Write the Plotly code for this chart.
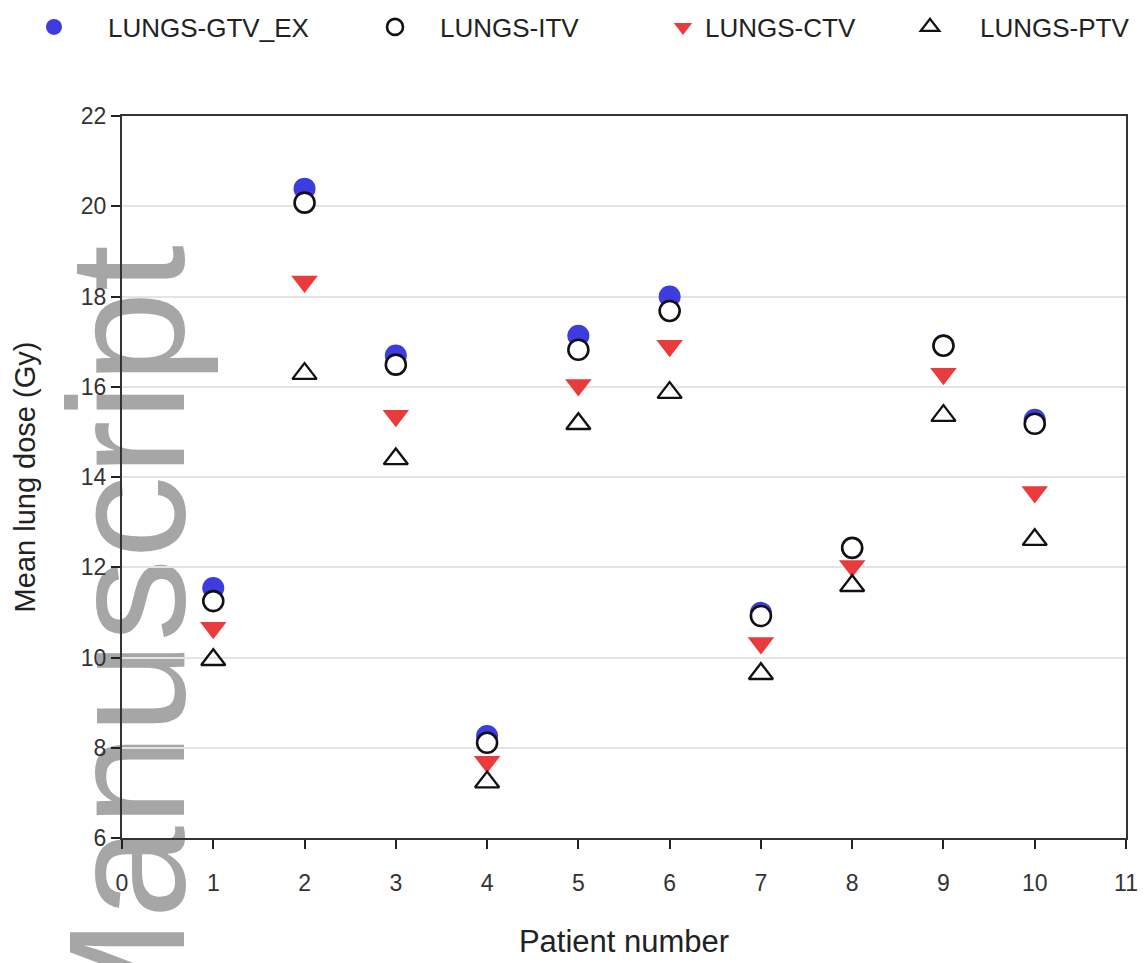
import plotly.graph_objects as go

# ---- data ----
patients = [1, 2, 3, 4, 5, 6, 7, 8, 9, 10]
gtv_ex = [11.54, 20.39, 16.69, 8.26, 17.13, 18.00, 10.99, 12.42, 16.92, 15.27]
itv = [11.25, 20.08, 16.49, 8.11, 16.82, 17.68, 10.92, 12.43, 16.91, 15.18]
ctv = [10.66, 18.33, 15.36, 7.69, 16.04, 16.91, 10.32, 12.03, 16.29, 13.67]
ptv = [9.95, 16.29, 14.40, 7.24, 15.18, 15.87, 9.64, 11.59, 15.36, 12.61]
series_names = ["LUNGS-GTV_EX", "LUNGS-ITV", "LUNGS-CTV", "LUNGS-PTV"]
x_ticks = list(range(0, 12))
y_ticks = list(range(6, 23, 2))

# page body has an 8px margin: figure coords = screen coords - OFF
OFF = 8
W, H = 1146 - OFF, 963 - OFF
ML, MR, MT, MB = 122 - OFF, 20, 116 - OFF, 125
PW = W - ML - MR
PH = H - MT - MB


def px_to_paper_x(px):
    return (px - OFF - ML) / PW


def px_to_paper_y(py):
    return (H - MB - (py - OFF)) / PH


FONT = "Liberation Sans, Arial, sans-serif"

fig = go.Figure()
fig.add_trace(go.Scatter(
    x=patients, y=gtv_ex, mode="markers", name=series_names[0], legend="legend",
    marker=dict(symbol="circle", size=22, color="#3c3ce0",
                line=dict(width=0))))
fig.add_trace(go.Scatter(
    x=patients, y=itv, mode="markers", name=series_names[1], legend="legend2",
    marker=dict(symbol="circle", size=20, color="white",
                line=dict(width=2.6, color="#111111"))))
fig.add_trace(go.Scatter(
    x=patients, y=ctv, mode="markers", name=series_names[2], legend="legend3",
    marker=dict(symbol="triangle-down", size=23, color="#e93b3b",
                line=dict(width=0))))
fig.add_trace(go.Scatter(
    x=patients, y=ptv, mode="markers", name=series_names[3], legend="legend4",
    marker=dict(symbol="triangle-up-open", size=21, color="#111111",
                line=dict(width=2.3, color="#111111"))))

# legends: marker centre (screen px), itemwidth
leg_specs = [(54, 98), (395, 80), (683, 34), (930, 90)]
leg_y = px_to_paper_y(27)
for i, (mx, iw) in enumerate(leg_specs):
    key = "legend" if i == 0 else f"legend{i + 1}"
    left = mx - (5 + iw / 2)
    fig.update_layout(**{key: dict(
        x=px_to_paper_x(left), xanchor="left", y=leg_y, yanchor="middle",
        orientation="h", itemwidth=iw, bgcolor="rgba(0,0,0,0)",
        font=dict(family=FONT, size=26, color="#222222"),
        borderwidth=0, visible=True)})

# watermark
cx, cy = 110, 651
fig.add_shape(
    type="rect", xref="paper", yref="paper",
    x0=px_to_paper_x(cx - 1), x1=px_to_paper_x(cx + 1),
    y0=px_to_paper_y(cy + 1), y1=px_to_paper_y(cy - 1),
    line=dict(width=0), fillcolor="rgba(0,0,0,0)", layer="between",
    label=dict(text="Manuscript", textangle=-90, textposition="middle center",
               font=dict(family=FONT, size=166, color="#a6a6a6")))

fig.update_layout(
    width=W, height=H, showlegend=True,
    margin=dict(l=ML, r=MR, t=MT, b=MB, autoexpand=False),
    paper_bgcolor="white", plot_bgcolor="white",
    font=dict(family=FONT, color="#222222"),
    xaxis=dict(
        range=[0, 11], tickvals=x_ticks, ticktext=[str(v) for v in x_ticks],
        ticks="outside", ticklen=9, tickwidth=2, tickcolor="#222222",
        showline=True, linecolor="#333333", linewidth=2, mirror=True,
        showgrid=False, zeroline=False, ticklabelstandoff=14,
        tickfont=dict(size=23, color="#333333"),
        title=dict(text="Patient number", standoff=36,
                   font=dict(size=31, color="#222222"))),
    yaxis=dict(
        range=[6, 22], tickvals=y_ticks, ticktext=[str(v) for v in y_ticks],
        ticks="outside", ticklen=9, tickwidth=2, tickcolor="#222222",
        showline=True, linecolor="#333333", linewidth=2, mirror=True,
        showgrid=True, gridcolor="#e4e4e4", gridwidth=2, zeroline=False,
        tickfont=dict(size=23, color="#333333"),
        title=dict(text="Mean lung dose (Gy)", standoff=37,
                   font=dict(size=29, color="#222222"))),
)

fig.write_html("out.html")
